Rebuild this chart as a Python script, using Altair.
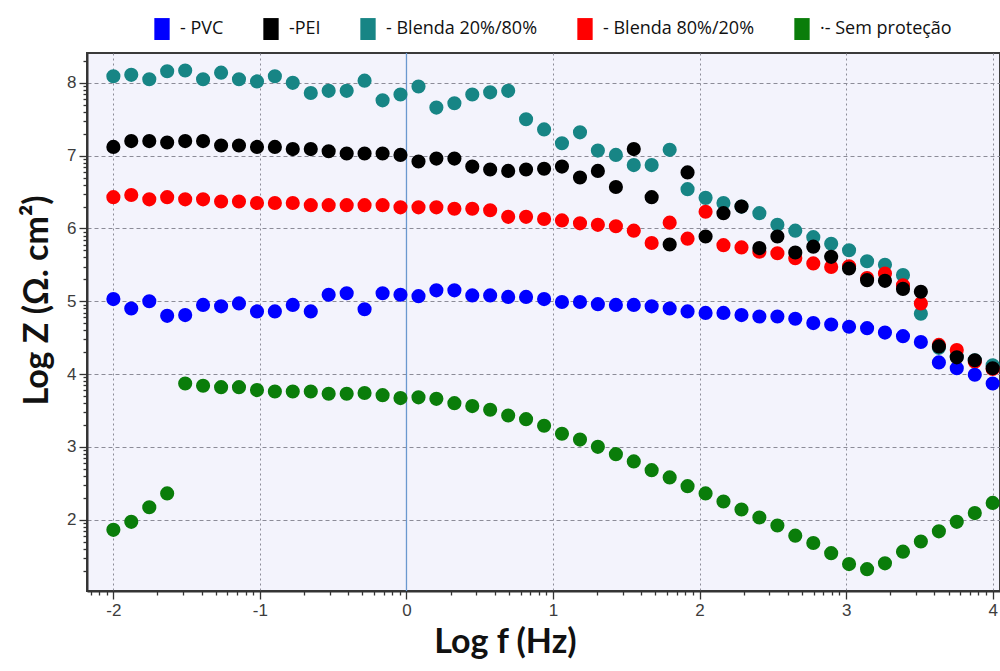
import altair as alt
import pandas as pd
import numpy as np

# log frequency positions (shared by all series)
log_f = [-2.000, -1.878, -1.755, -1.633, -1.510, -1.388, -1.265, -1.143, -1.020, -0.898,
         -0.776, -0.653, -0.531, -0.408, -0.286, -0.163, -0.041, 0.082, 0.204, 0.327,
         0.449, 0.571, 0.694, 0.816, 0.939, 1.061, 1.184, 1.306, 1.429, 1.551,
         1.673, 1.796, 1.918, 2.041, 2.163, 2.286, 2.408, 2.531, 2.653, 2.776,
         2.898, 3.020, 3.143, 3.265, 3.388, 3.510, 3.633, 3.755, 3.878, 4.000]

pvc = [5.03, 4.90, 5.00, 4.80, 4.81, 4.95, 4.93, 4.97, 4.86, 4.86,
       4.95, 4.86, 5.09, 5.11, 4.89, 5.11, 5.09, 5.07, 5.15, 5.15,
       5.08, 5.08, 5.06, 5.06, 5.03, 4.99, 4.99, 4.96, 4.95, 4.95,
       4.93, 4.90, 4.86, 4.84, 4.84, 4.81, 4.79, 4.79, 4.76, 4.70,
       4.68, 4.65, 4.63, 4.57, 4.52, 4.44, 4.16, 4.08, 3.99, 3.87]

pei = [7.12, 7.20, 7.20, 7.18, 7.20, 7.20, 7.14, 7.14, 7.12, 7.12,
       7.09, 7.09, 7.06, 7.03, 7.03, 7.03, 7.01, 6.92, 6.96, 6.96,
       6.85, 6.81, 6.79, 6.81, 6.82, 6.85, 6.70, 6.79, 6.57, 7.09,
       6.43, 5.78, 6.77, 5.89, 6.21, 6.30, 5.73, 5.89, 5.67, 5.75,
       5.61, 5.45, 5.29, 5.28, 5.17, 5.13, 4.38, 4.23, 4.19, 4.08]

blenda_20_80 = [8.09, 8.11, 8.05, 8.16, 8.17, 8.05, 8.14, 8.05, 8.02, 8.09,
                8.00, 7.86, 7.89, 7.89, 8.03, 7.76, 7.84, 7.95, 7.66, 7.72,
                7.84, 7.87, 7.89, 7.50, 7.36, 7.17, 7.32, 7.07, 7.01, 6.87,
                6.87, 7.08, 6.54, 6.42, 6.35, 6.30, 6.21, 6.05, 5.97, 5.88,
                5.79, 5.70, 5.55, 5.50, 5.36, 4.83, 4.36, 4.24, 4.19, 4.12]

blenda_80_20 = [6.43, 6.46, 6.40, 6.43, 6.40, 6.40, 6.37, 6.37, 6.35, 6.35,
                6.35, 6.32, 6.32, 6.32, 6.32, 6.32, 6.29, 6.29, 6.29, 6.27,
                6.27, 6.25, 6.16, 6.16, 6.13, 6.11, 6.07, 6.05, 6.03, 5.97,
                5.80, 6.08, 5.86, 6.23, 5.77, 5.74, 5.68, 5.66, 5.59, 5.52,
                5.47, 5.48, 5.32, 5.38, 5.22, 4.97, 4.40, 4.33, 4.17, 4.07]

sem_protecao = [1.86, 1.97, 2.17, 2.36, 3.87, 3.84, 3.82, 3.82, 3.78, 3.76,
                3.76, 3.76, 3.73, 3.73, 3.74, 3.71, 3.67, 3.68, 3.66, 3.60,
                3.56, 3.51, 3.43, 3.38, 3.29, 3.18, 3.10, 3.00, 2.90, 2.80,
                2.68, 2.58, 2.46, 2.36, 2.25, 2.14, 2.03, 1.92, 1.78, 1.68,
                1.54, 1.39, 1.32, 1.40, 1.56, 1.70, 1.84, 1.97, 2.09, 2.23]

legend_order = ["PVC", "PEI", "Blenda 20%/80%", "Blenda 80%/20%", "Sem proteção"]
legend_colors = ["#0000ff", "#000000", "#178585", "#ff0000", "#0a7d0a"]

# drawing order (bottom -> top)
series = [("Sem proteção", sem_protecao), ("Blenda 20%/80%", blenda_20_80),
          ("Blenda 80%/20%", blenda_80_20), ("PVC", pvc), ("PEI", pei)]
rows = []
for order, (name, vals) in enumerate(series):
    for xv, yv in zip(log_f, vals):
        rows.append({"logf": xv, "logz": yv, "serie": name, "ord": order})
df = pd.DataFrame(rows)

x_dom = [-2.18, 4.05]
y_dom = [1.02, 8.41]


def tick_values(lo, hi):
    vals = []
    for d in range(int(np.floor(lo)) - 1, int(np.ceil(hi)) + 1):
        for k in range(1, 10):
            v = round(d + np.log10(k), 4)
            if lo <= v <= hi:
                vals.append(v)
    return vals


INT = "abs(datum.value - round(datum.value)) < 0.001"
LBL = f"{INT} ? toString(round(datum.value)) : ''"


def make_axis(title, vals, **kw):
    return alt.Axis(
        title=title,
        values=vals,
        labelExpr=LBL,
        labelOverlap=False,
        labelFlush=False,
        labelFont="Liberation Sans",
        labelFontSize=17,
        labelColor="#3c3c3c",
        tickColor="#333333",
        tickWidth=1.3,
        tickSize={"condition": {"test": INT, "value": 8}, "value": 4},
        gridOpacity={"condition": {"test": INT, "value": 1}, "value": 0},
        gridColor="#8c8c98",
        gridWidth=1,
        domainColor="#333333",
        domainWidth=2,
        titleFont="Lato",
        titleFontWeight="bold",
        titleFontSize=34,
        titleColor="#111111",
        **kw,
    )


x_enc = alt.X("logf:Q", scale=alt.Scale(domain=x_dom, nice=False, zero=False),
              axis=make_axis("Log f (Hz)", tick_values(*x_dom), gridDash=[2, 3],
                             titleX=418, titleY=34, titleBaseline="top", labelPadding=3))
y_enc = alt.Y("logz:Q", scale=alt.Scale(domain=y_dom, nice=False, zero=False),
              axis=make_axis("Log Z (Ω. cm²)", tick_values(*y_dom), gridDash=[4, 3],
                             titlePadding=12, titleY=247, labelPadding=3))

rule = alt.Chart(pd.DataFrame({"logf": [0.0]})).mark_rule(
    color="#6a98cf", strokeWidth=1.3).encode(x=x_enc)

points = alt.Chart(df).mark_circle(size=200, opacity=1).encode(
    x=x_enc,
    y=y_enc,
    order=alt.Order("ord:Q"),
    color=alt.Color(
        "serie:N",
        scale=alt.Scale(domain=legend_order, range=legend_colors),
        legend=alt.Legend(
            orient="none", legendX=64, legendY=-35, direction="horizontal", columns=5,
            title=None, symbolType="M-0.7,-1H0.7V1H-0.7Z", symbolSize=480,
            symbolStrokeWidth=0, symbolOpacity=1, labelFont="Open Sans", labelFontSize=18,
            labelColor="#111111", labelOffset=7, columnPadding=36, padding=0,
            labelExpr="datum.label == 'PEI' ? '-PEI' : (datum.label == 'Sem proteção' ? '·- Sem proteção' : '- ' + datum.label)",
        ),
    ),
)

chart = alt.layer(rule, points).properties(
    width=913,
    height=538,
    padding={"left": 87, "top": 53, "right": 0, "bottom": 80},
    autosize=alt.AutoSizeParams(type="none"),
    background="white",
).configure_view(fill="#f3f3fc", stroke="#3a3a3a", strokeWidth=2)

chart.save("out.html", embed_options={"renderer": "svg", "actions": False})
